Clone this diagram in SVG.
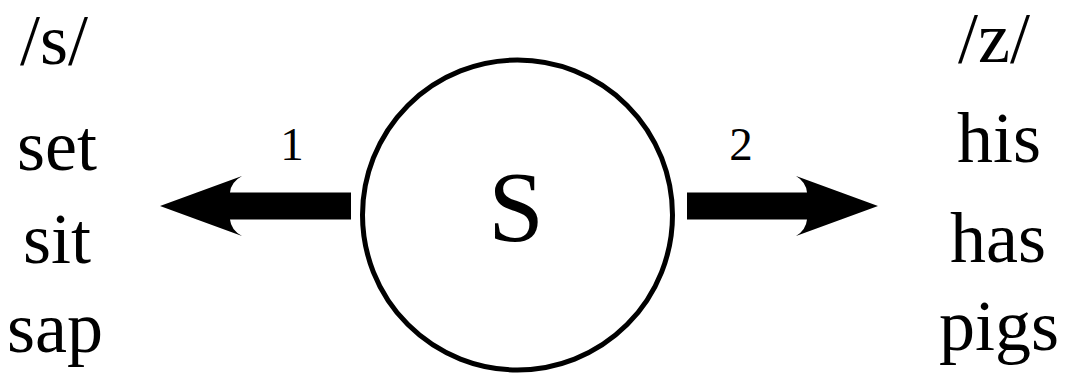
<svg xmlns="http://www.w3.org/2000/svg" width="1065" height="392" viewBox="0 0 1065 392">
  <style>
    text { font-family: 'Liberation Serif', 'Times New Roman', serif; fill: #000; text-anchor: middle; }
    .word { font-size: 72px; }
    .num { font-size: 47px; }
    .big { font-size: 100px; }
    .arrow { fill: #000; stroke: none; }
  </style>
  <rect width="1065" height="392" fill="#fff"/>
  <g id="connectors">
    <path class="arrow" d="M351 192.5 L230 192.5 Q231 182 242 176 L160 206 L242 236 Q231 230 230 219.5 L351 219.5 Z"/>
    <path class="arrow" d="M687 192.5 L807 192.5 Q806 182 796 176 L878 206 L796 236 Q806 230 807 219.5 L687 219.5 Z"/>
    <text class="num" x="292" y="160">1</text>
    <text class="num" x="741" y="160">2</text>
  </g>
  <g id="node-s">
    <circle cx="517.5" cy="215" r="155" fill="#fff" stroke="#000" stroke-width="5"/>
    <text class="big" x="516" y="240">S</text>
  </g>
  <g id="left-list">
    <text class="word" x="54" y="64">/s/</text>
    <text class="word" x="57" y="170">set</text>
    <text class="word" x="57" y="263">sit</text>
    <text class="word" x="55" y="352">sap</text>
  </g>
  <g id="right-list">
    <text class="word" x="994" y="62">/z/</text>
    <text class="word" x="999" y="162">his</text>
    <text class="word" x="998" y="262">has</text>
    <text class="word" x="999" y="350">pigs</text>
  </g>
</svg>
